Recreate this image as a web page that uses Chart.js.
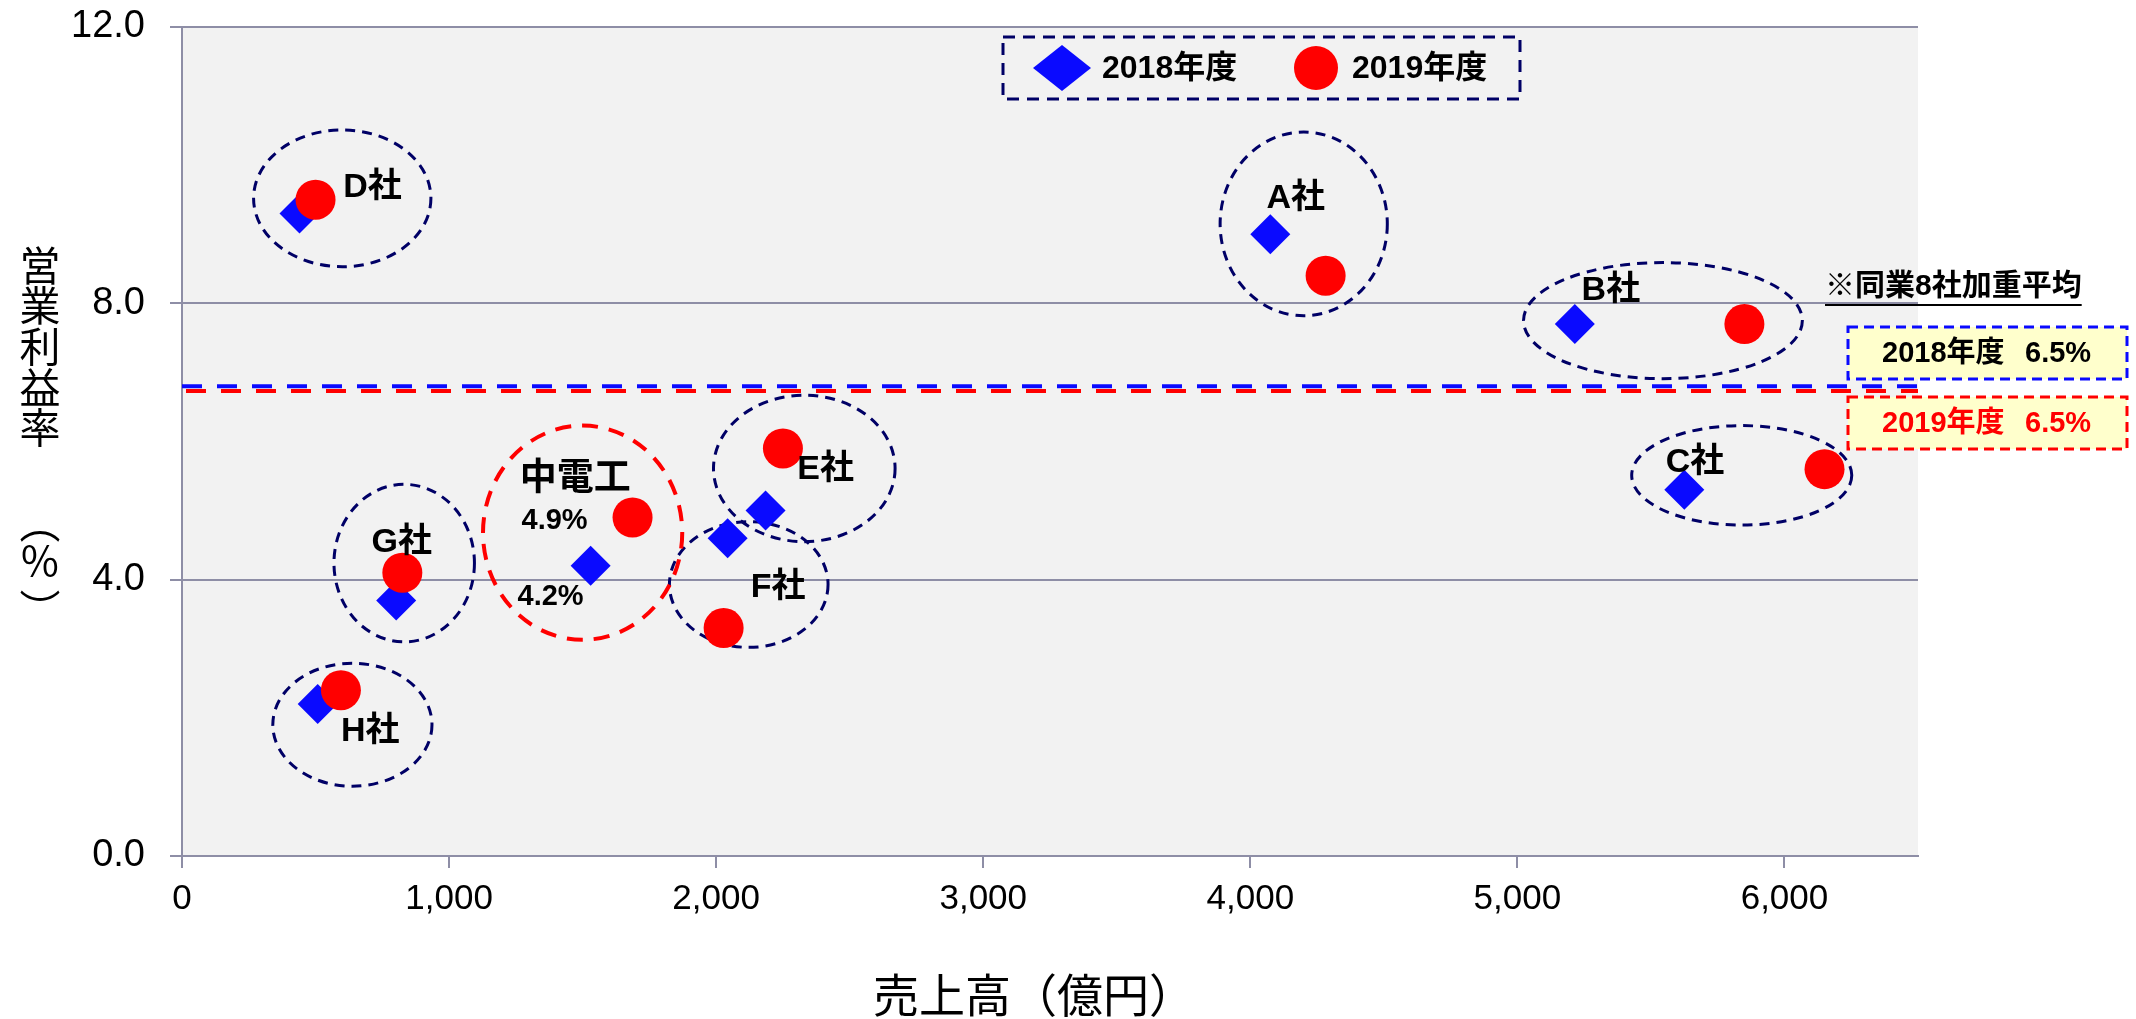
<!DOCTYPE html>
<html>
<head>
<meta charset="utf-8">
<script src="https://cdn.jsdelivr.net/npm/chart.js@4.4.1/dist/chart.umd.min.js"></script>
<style>
  html, body { margin: 0; padding: 0; background: #fff; }
</style>
</head>
<body>
<canvas id="chart" width="2136" height="1019"></canvas>
<script>
// data
const companies = ["D社", "A社", "B社", "C社", "E社", "F社", "中電工", "G社", "H社"];
const sales2018 = [440, 4075, 5215, 5625, 2185, 2043, 1530, 802, 508];
const margin2018 = [9.3, 9.0, 7.7, 5.3, 5.0, 4.6, 4.2, 3.7, 2.2];
const sales2019 = [500, 4282, 5850, 6150, 2250, 2028, 1687, 825, 595];
const margin2019 = [9.5, 8.4, 7.7, 5.6, 5.9, 3.3, 4.9, 4.1, 2.4];
const seriesNames = ["2018年度", "2019年度"];
const avgLine2018 = 6.8;   // where the dashed lines sit
const avgLine2019 = 6.73;
const avgLabels = ["6.5%", "6.5%"];
const xTicks = [0, 1000, 2000, 3000, 4000, 5000, 6000];
const yTicks = [0, 4, 8, 12];

const BLUE = "#0a0aff";
const RED = "#ff0000";
const NAVY = "#000066";
const GRID = "#8e8ea6";
const JP = '"Liberation Sans", "Noto Sans CJK JP", sans-serif';

// annotation layout (data units): company groups
const groups = [
  { name: "D社", cx: 600, cy: 9.52, rx: 332, ry: 0.99, lx: 713, ly: 9.67 },
  { name: "A社", cx: 4200, cy: 9.15, rx: 313, ry: 1.33, lx: 4170, ly: 9.52 },
  { name: "B社", cx: 5545, cy: 7.75, rx: 522, ry: 0.84, lx: 5350, ly: 8.19 },
  { name: "C社", cx: 5840, cy: 5.51, rx: 412, ry: 0.72, lx: 5665, ly: 5.7 },
  { name: "E社", cx: 2330, cy: 5.61, rx: 340, ry: 1.06, lx: 2410, ly: 5.6 },
  { name: "F社", cx: 2122, cy: 3.93, rx: 297, ry: 0.91, lx: 2232, ly: 3.88 },
  { name: "G社", cx: 832, cy: 4.24, rx: 263, ry: 1.14, lx: 823, ly: 4.54 },
  { name: "H社", cx: 638, cy: 1.9, rx: 298, ry: 0.89, lx: 705, ly: 1.8 }
];
const own = { cx: 1500, cy: 4.68, rx: 373, ry: 1.55, lx: 1472, ly: 5.45 };
const ownIdx = companies.indexOf("中電工");

const toPoints = (xs, ys) => xs.map((x, i) => ({ x: x, y: ys[i] }));

const annotations = {
  id: "annotations",
  beforeDraw(chart) {
    const { ctx, chartArea: a } = chart;
    ctx.save();
    ctx.fillStyle = "#f2f2f2";
    ctx.fillRect(a.left, a.top, a.right - a.left, a.bottom - a.top);
    ctx.restore();
  },
  beforeDatasetsDraw(chart) {
    const { ctx, scales: { x, y } } = chart;
    const ellipse = (g, color, width, dash) => {
      const px = x.getPixelForValue(g.cx), py = y.getPixelForValue(g.cy);
      const rx = x.getPixelForValue(g.cx + g.rx) - px;
      const ry = py - y.getPixelForValue(g.cy + g.ry);
      ctx.save();
      ctx.strokeStyle = color;
      ctx.lineWidth = width;
      ctx.setLineDash(dash);
      ctx.beginPath();
      ctx.ellipse(px, py, rx, ry, 0, 0, Math.PI * 2);
      ctx.stroke();
      ctx.restore();
    };
    groups.forEach(g => ellipse(g, NAVY, 3, [10, 7]));
    ellipse(own, RED, 4, [16, 11]);
  },
  afterDatasetsDraw(chart) {
    const { ctx, scales: { x, y } } = chart;
    ctx.save();
    ctx.fillStyle = "#000";
    ctx.textAlign = "center";
    ctx.textBaseline = "middle";
    ctx.font = "bold 34px " + JP;
    groups.forEach(g => ctx.fillText(g.name, x.getPixelForValue(g.lx), y.getPixelForValue(g.ly)));
    ctx.font = "bold 37px " + JP;
    ctx.fillText("中電工", x.getPixelForValue(own.lx), y.getPixelForValue(own.ly));
    ctx.font = "bold 29px " + JP;
    ctx.fillText(margin2019[ownIdx].toFixed(1) + "%", x.getPixelForValue(1395), y.getPixelForValue(4.85));
    ctx.fillText(margin2018[ownIdx].toFixed(1) + "%", x.getPixelForValue(1380), y.getPixelForValue(3.75));
    ctx.restore();
  },
  afterDraw(chart) {
    const { ctx } = chart;
    ctx.save();
    // legend
    ctx.strokeStyle = NAVY;
    ctx.lineWidth = 3;
    ctx.setLineDash([12, 8]);
    ctx.strokeRect(1003, 37, 517, 62);
    ctx.setLineDash([]);
    ctx.fillStyle = BLUE;
    ctx.beginPath();
    ctx.moveTo(1033, 68); ctx.lineTo(1062, 45); ctx.lineTo(1091, 68); ctx.lineTo(1062, 91);
    ctx.closePath(); ctx.fill();
    ctx.fillStyle = RED;
    ctx.beginPath(); ctx.arc(1316, 68, 22, 0, Math.PI * 2); ctx.fill();
    ctx.fillStyle = "#000";
    ctx.font = "bold 32px " + JP;
    ctx.textBaseline = "middle";
    ctx.textAlign = "left";
    ctx.fillText(seriesNames[0], 1102, 69);
    ctx.fillText(seriesNames[1], 1352, 69);

    // weighted average note + boxes
    ctx.font = "bold 30px " + JP;
    const note = "※同業8社加重平均";
    ctx.fillText(note, 1825, 287);
    const w = ctx.measureText(note).width;
    ctx.fillRect(1825, 304, w, 2);

    const box = (top, color, series, val) => {
      ctx.fillStyle = "#ffffcc";
      ctx.fillRect(1848, top, 279, 52);
      ctx.strokeStyle = color;
      ctx.lineWidth = 3;
      ctx.setLineDash([10, 6]);
      ctx.strokeRect(1848, top, 279, 52);
      ctx.setLineDash([]);
      ctx.fillStyle = color === BLUE ? "#000" : RED;
      ctx.font = "bold 29px " + JP;
      ctx.fillText(series, 1882, top + 27);
      ctx.fillText(val, 2025, top + 27);
    };
    box(327, BLUE, seriesNames[0], avgLabels[0]);
    box(397, RED, seriesNames[1], avgLabels[1]);

    // axis titles
    ctx.fillStyle = "#000";
    ctx.font = '46px "Noto Sans CJK JP", sans-serif';
    ctx.textAlign = "center";
    ctx.fillText("売上高（億円）", 1034, 995);
    ctx.font = '41px "Noto Sans CJK JP", sans-serif';
    const yTitle = ["営", "業", "利", "益", "率", "︵", "%", "︶"];
    const yPos = [265, 305, 346, 387, 427, 522, 560, 609];
    yTitle.forEach((c, i) => ctx.fillText(c, 40, yPos[i]));
    ctx.restore();
  }
};

new Chart(document.getElementById("chart"), {
  type: "scatter",
  data: {
    datasets: [
      {
        label: seriesNames[1],
        data: toPoints(sales2019, margin2019),
        pointStyle: "circle",
        pointRadius: 20,
        backgroundColor: RED,
        borderWidth: 0,
        order: 1
      },
      {
        label: seriesNames[0],
        data: toPoints(sales2018, margin2018),
        pointStyle: "rectRot",
        pointRadius: 20,
        backgroundColor: BLUE,
        borderWidth: 0,
        order: 2
      },
      {
        type: "line",
        label: "avg2019",
        data: [{ x: 0, y: avgLine2019 }, { x: 6500, y: avgLine2019 }],
        borderColor: RED,
        borderWidth: 4,
        borderDash: [20, 15],
        borderDashOffset: -4,
        pointRadius: 0,
        order: 3
      },
      {
        type: "line",
        label: "avg2018",
        data: [{ x: 0, y: avgLine2018 }, { x: 6500, y: avgLine2018 }],
        borderColor: BLUE,
        borderWidth: 4,
        borderDash: [20, 15],
        pointRadius: 0,
        order: 4
      }
    ]
  },
  options: {
    responsive: false,
    animation: false,
    devicePixelRatio: 1,
    layout: { padding: { top: 27, right: 218, left: 0, bottom: 0 } },
    plugins: {
      legend: { display: false },
      tooltip: { enabled: false }
    },
    scales: {
      x: {
        type: "linear",
        min: 0,
        max: 6500,
        afterBuildTicks: s => { s.ticks = xTicks.map(v => ({ value: v })); },
        afterFit: s => { s.height = 163; s.paddingLeft = 0; s.paddingRight = 0; },
        ticks: {
          color: "#000",
          padding: 10,
          maxRotation: 0,
          font: { family: '"Liberation Sans", Arial, sans-serif', size: 35 },
          callback: v => v.toLocaleString("en-US")
        },
        grid: { drawOnChartArea: false, drawTicks: true, tickLength: 12, color: GRID, lineWidth: 2 },
        border: { color: GRID, width: 2 }
      },
      y: {
        min: 0,
        max: 12,
        afterBuildTicks: s => { s.ticks = yTicks.map(v => ({ value: v })); },
        afterFit: s => { s.width = 182; s.paddingTop = 0; s.paddingBottom = 0; },
        ticks: {
          color: "#000",
          padding: 25,
          font: { family: '"Liberation Sans", Arial, sans-serif', size: 38 },
          callback: v => Number(v).toFixed(1)
        },
        grid: { color: GRID, lineWidth: 2, tickLength: 12 },
        border: { color: GRID, width: 2 }
      }
    }
  },
  plugins: [annotations]
});
</script>
</body>
</html>
